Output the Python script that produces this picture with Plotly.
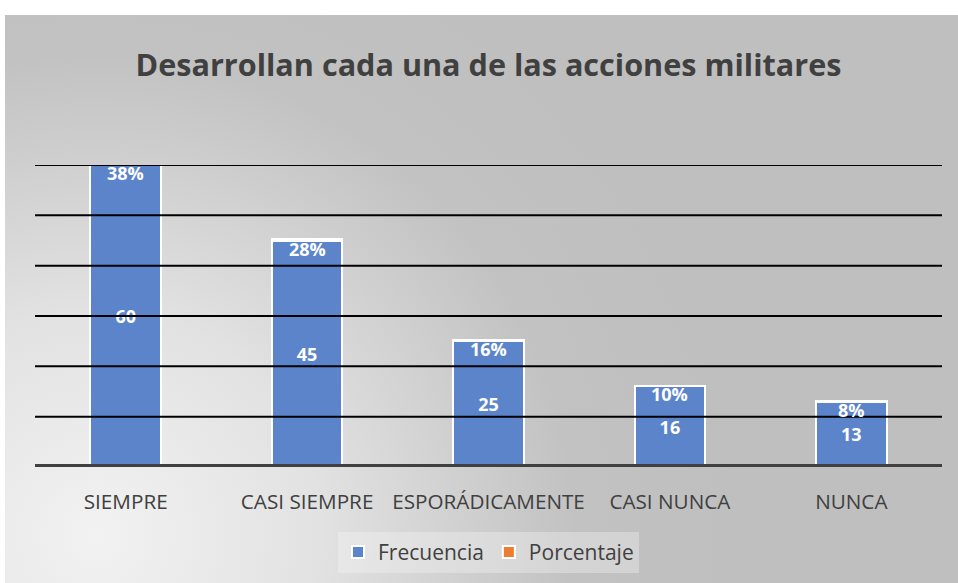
import base64

import plotly.graph_objects as go

categorias = ["SIEMPRE", "CASI SIEMPRE", "ESPORÁDICAMENTE", "CASI NUNCA", "NUNCA"]
frecuencia = [60, 45, 25, 16, 13]
porcentaje = [0.38, 0.28, 0.16, 0.10, 0.08]
etiquetas_pct = ["38%", "28%", "16%", "10%", "8%"]
marcas_y = [10, 20, 30, 40, 50, 60]

FONT = "Open Sans"
TXT = "#404040"

# fondo con degradado radial, como el gráfico de Excel
svg = (
    '<svg xmlns="http://www.w3.org/2000/svg" width="953" height="568">'
    '<defs><radialGradient id="g" gradientUnits="userSpaceOnUse" cx="90" cy="520" r="640">'
    '<stop offset="0" stop-color="#f2f2f2"/><stop offset="0.35" stop-color="#e2e2e2"/>'
    '<stop offset="0.75" stop-color="#c2c2c2"/><stop offset="1" stop-color="#bfbfbf"/>'
    '</radialGradient></defs><rect width="953" height="568" fill="url(#g)"/></svg>'
)
bg_uri = "data:image/svg+xml;base64," + base64.b64encode(svg.encode()).decode()

fig = go.Figure()
fig.add_trace(go.Bar(
    name="Frecuencia", x=categorias, y=frecuencia,
    marker=dict(color="#5B84CB", line=dict(color="white", width=2)),
    text=[str(v) for v in frecuencia], textposition="inside",
    insidetextanchor="middle",
    textfont=dict(color="white", size=18, family=FONT, weight="bold"),
))
fig.add_trace(go.Bar(
    name="Porcentaje", x=categorias, y=porcentaje,
    marker=dict(color="#ED7D31", line=dict(color="white", width=2)),
    textposition="none",
))

for c, f, lab in zip(categorias, frecuencia, etiquetas_pct):
    fig.add_annotation(x=c, y=f, text=lab, showarrow=False, yanchor="middle", yshift=-8,
                       font=dict(color="white", size=18, family=FONT, weight="bold"))

for v in marcas_y:
    fig.add_shape(type="line", xref="paper", x0=0, x1=1, yref="y", y0=v, y1=v,
                  line=dict(color="black", width=2), layer="above")
fig.add_shape(type="line", xref="paper", x0=0, x1=1, yref="y", y0=0, y1=0,
              line=dict(color="#404040", width=6), layer="above")

L, R, T, B = 35, 16, 165, 116
pw, ph = 958 - L - R, 583 - T - B
fig.add_layout_image(
    source=bg_uri, xref="paper", yref="paper",
    x=(5 - L) / pw, y=(583 - B - 15) / ph,
    sizex=953 / pw, sizey=568 / ph,
    xanchor="left", yanchor="top", sizing="stretch", layer="below",
)

fig.update_layout(
    width=958, height=583,
    barmode="stack", bargap=0.61,
    paper_bgcolor="white", plot_bgcolor="rgba(0,0,0,0)",
    margin=dict(l=L, r=R, t=T, b=B, autoexpand=False),
    title=dict(text="<b>Desarrollan cada una de las acciones militares</b>",
               x=0.5, xref="paper", xanchor="center", y=1 - 65 / 583, yref="container",
               yanchor="middle", font=dict(size=30.6, color=TXT, family=FONT)),
    font=dict(family=FONT, color=TXT),
    xaxis=dict(showgrid=False, showline=False, ticks="outside", ticklen=16,
               tickcolor="rgba(0,0,0,0)", tickfont=dict(size=20.7, color=TXT, family=FONT)),
    yaxis=dict(range=[0, 60], showgrid=False, zeroline=False, showticklabels=False,
               showline=False),
    legend=dict(orientation="h", x=0.5, xanchor="center", y=-0.215, yanchor="top",
                bgcolor="rgba(245,245,245,0.35)", font=dict(size=21, color=TXT, family=FONT),
                traceorder="normal", itemwidth=30),
    showlegend=True,
)

fig.write_html("out.html", config={"displayModeBar": False},
               post_script="document.body.style.margin='0';")
